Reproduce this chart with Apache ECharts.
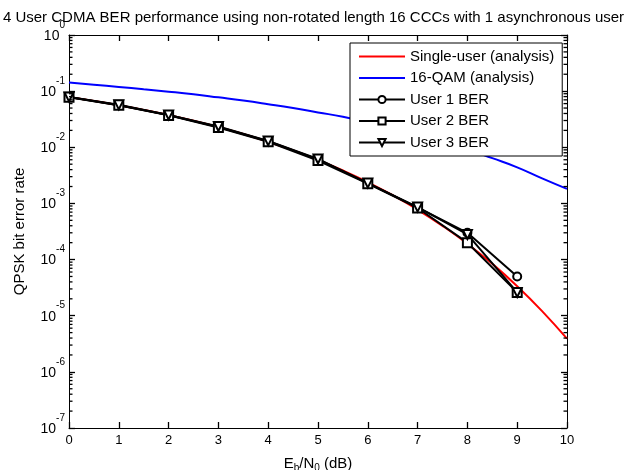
<!DOCTYPE html>
<html>
<head>
<meta charset="utf-8">
<script src="https://cdn.jsdelivr.net/npm/echarts@6/dist/echarts.min.js"></script>
<style>html,body{margin:0;padding:0;background:#fff}#c{width:627px;height:470px}</style>
</head>
<body>
<div id="c"></div>
<script>
// Eb/N0 grid (dB)
var snrFine = [0,0.5,1,1.5,2,2.5,3,3.5,4,4.5,5,5.5,6,6.5,7,7.5,8,8.5,9,9.5,10];
var singleUser = [7.86e-2,6.71e-2,5.63e-2,4.64e-2,3.75e-2,2.97e-2,2.29e-2,1.72e-2,1.25e-2,8.8e-3,5.95e-3,3.86e-3,2.39e-3,1.40e-3,7.73e-4,3.99e-4,1.91e-4,8.4e-5,3.36e-5,1.21e-5,3.9e-6];
var qam16 = [0.142,0.130,0.119,0.108,0.098,0.088,0.0775,0.068,0.0586,0.050,0.0418,0.035,0.0279,0.022,0.0170,0.0127,0.0092,0.0064,0.0044,0.0028,0.00182];
var snrSim = [0,1,2,3,4,5,6,7,8,9];
var user1 = [7.9e-2,5.6e-2,3.75e-2,2.3e-2,1.28e-2,6.1e-3,2.3e-3,8.5e-4,3.0e-4,5.0e-5];
var user2 = [7.8e-2,5.6e-2,3.7e-2,2.25e-2,1.25e-2,5.8e-3,2.25e-3,8.3e-4,2.0e-4,2.6e-5];
var user3 = [7.9e-2,5.7e-2,3.75e-2,2.35e-2,1.3e-2,6.2e-3,2.3e-3,8.6e-4,2.8e-4,2.6e-5];
var yDecades = [-7,-6,-5,-4,-3,-2,-1,0];
var seriesNames = ['Single-user (analysis)','16-QAM (analysis)','User 1 BER','User 2 BER','User 3 BER'];
var titleText = '4 User CDMA BER performance using non-rotated length 16 CCCs with 1 asynchronous user';

function pairs(xs, ys){ return xs.map(function(x,i){return [x, ys[i]];}); }

// minor tick values for log axis (2..9 x 10^d)
var minorVals = [];
yDecades.forEach(function(d){ if (d < 0) { for (var m=2;m<=9;m++) minorVals.push(m*Math.pow(10,d)); } });

var FONT = 'Liberation Sans';
var TICK = {color: '#000', width: 1.3};
var chart = echarts.init(document.getElementById('c'), null, {renderer:'canvas'});

var option = {
  animation: false,
  backgroundColor: '#fff',
  textStyle: {fontFamily: FONT},
  title: {
    text: titleText, left: 'center', top: 5,
    textStyle: {fontFamily: FONT, fontSize: 15, fontWeight: 'normal', color: '#000'}
  },
  grid: {left: 69, right: 60, top: 35, bottom: 42, outerBoundsMode: 'none', containLabel: false},
  legend: {
    orient: 'vertical', left: 350, top: 43,
    data: [
      {name: seriesNames[0], itemStyle: {opacity: 0}},
      {name: seriesNames[1], itemStyle: {opacity: 0}},
      seriesNames[2], seriesNames[3], seriesNames[4]
    ],
    backgroundColor: '#fff',
    borderColor: '#000', borderWidth: 1, borderRadius: 0,
    padding: [6, 8, 6, 8],
    itemGap: 6.5, itemWidth: 46, itemHeight: 9,
    textStyle: {fontFamily: FONT, fontSize: 15, color: '#000'}
  },
  xAxis: [{
    type: 'value', min: 0, max: 10, interval: 1,
    name: 'E{sub|b}/N{sub|0} (dB)', nameLocation: 'middle', nameGap: 26,
    nameTextStyle: {fontFamily: FONT, fontSize: 15, color: '#000',
      rich: {sub: {fontFamily: FONT, fontSize: 10, color:'#000', padding: [9,0,0,0]}}},
    axisLine: {show: true, onZero: false, lineStyle: {color: '#000', width: 1}},
    axisTick: {show: true, inside: true, length: 6, lineStyle: TICK},
    axisLabel: {fontFamily: FONT, fontSize: 13, color: '#000', margin: 6},
    splitLine: {show: false}
  }, {
    type: 'value', min: 0, max: 10, interval: 1, position: 'top',
    axisLine: {show: true, onZero: false, lineStyle: {color: '#000', width: 1}},
    axisTick: {show: true, inside: true, length: 6, lineStyle: TICK},
    axisLabel: {show: false}, splitLine: {show: false}
  }],
  yAxis: [{
    type: 'log', logBase: 10, min: 1e-7, max: 1, splitNumber: 7,
    name: 'QPSK bit error rate', nameLocation: 'middle', nameGap: 42, nameRotate: 90,
    nameTextStyle: {fontFamily: FONT, fontSize: 15, color: '#000'},
    axisLine: {show: true, onZero: false, lineStyle: {color: '#000', width: 1}},
    axisTick: {show: true, inside: true, length: 6, lineStyle: TICK},
    axisLabel: {
      fontFamily: FONT, fontSize: 13, color: '#000', margin: 4, padding: [0,0,8,0],
      formatter: function(v){ var e = Math.round(Math.log(v)/Math.LN10); return '{b|10}{e|' + e + '}'; },
      rich: {
        b: {fontFamily: FONT, fontSize: 14, color: '#000', padding: [10,0,0,0]},
        e: {fontFamily: FONT, fontSize: 10, color: '#000', padding: [0,0,12,0]}
      }
    },
    splitLine: {show: false}
  }, {
    type: 'log', logBase: 10, min: 1e-7, max: 1, splitNumber: 7, position: 'right',
    axisLine: {show: true, onZero: false, lineStyle: {color: '#000', width: 1}},
    axisTick: {show: true, inside: true, length: 6, lineStyle: TICK},
    axisLabel: {show: false}, splitLine: {show: false}
  }],
  series: [
    {name: seriesNames[0], type: 'line', data: pairs(snrFine, singleUser), symbol: 'none', smooth: true,
     lineStyle: {color: '#ff0000', width: 2}, itemStyle: {color: '#ff0000'}, z: 2},
    {name: seriesNames[1], type: 'line', data: pairs(snrFine, qam16), symbol: 'none', smooth: true,
     lineStyle: {color: '#0000ff', width: 2}, itemStyle: {color: '#0000ff'}, z: 2},
    {name: seriesNames[2], type: 'line', data: pairs(snrSim, user1), symbol: 'emptyCircle', symbolSize: 8,
     lineStyle: {color: '#000', width: 2}, itemStyle: {color: '#000', borderWidth: 1.5}, z: 3},
    {name: seriesNames[3], type: 'line', data: pairs(snrSim, user2), symbol: 'emptyRect', symbolSize: 9,
     lineStyle: {color: '#000', width: 2}, itemStyle: {color: '#000', borderWidth: 1.5}, z: 3},
    {name: seriesNames[4], type: 'line', data: pairs(snrSim, user3), symbol: 'emptyTriangle', symbolSize: 9, symbolRotate: 180,
     lineStyle: {color: '#000', width: 2}, itemStyle: {color: '#000', borderWidth: 1.5}, z: 3}
  ]
};
chart.setOption(option);

// minor log ticks placed through the axis scales
var minorEls = [];
minorVals.forEach(function(v){
  var pL = chart.convertToPixel({xAxisIndex: 0, yAxisIndex: 0}, [0, v]);
  var pR = chart.convertToPixel({xAxisIndex: 0, yAxisIndex: 0}, [10, v]);
  if (!pL || !pR) return;
  minorEls.push({type: 'line', silent: true, z: 10,
    shape: {x1: pL[0], y1: pL[1], x2: pL[0] + 3.5, y2: pL[1]}, style: {stroke: '#000', lineWidth: 1.3}});
  minorEls.push({type: 'line', silent: true, z: 10,
    shape: {x1: pR[0], y1: pR[1], x2: pR[0] - 3.5, y2: pR[1]}, style: {stroke: '#000', lineWidth: 1.3}});
});
chart.setOption({graphic: minorEls});
</script>
</body>
</html>
